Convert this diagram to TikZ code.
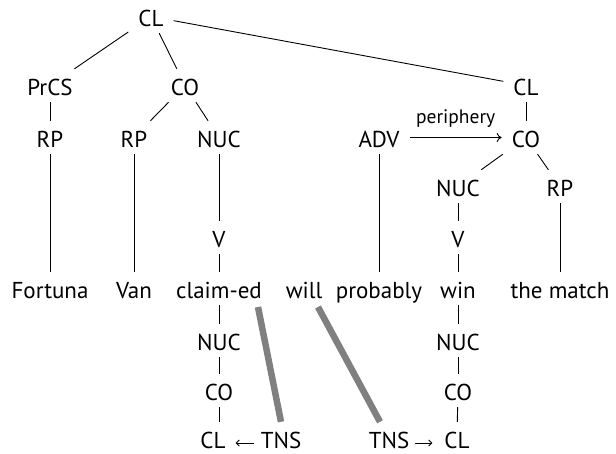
\documentclass[tikz,border=0pt]{standalone}
\usepackage{fontspec}
\setmainfont{PT Sans}
\usetikzlibrary{arrows.meta,calc}
\begin{document}
\begin{tikzpicture}[x=1pt,y=-1pt,
  lab/.style={anchor=base, font=\fontsize{23}{27}\selectfont,
    text height=19pt, text depth=0pt, inner ysep=7pt, inner xsep=10pt},
  lastrow/.style={lab, text height=26pt, inner ysep=0pt},
  edge/.style={line width=0.9pt},
  pointer/.style={edge, -{Straight Barb[length=3pt,width=6pt]}},
  link/.style={line width=6.5pt, draw=black!50},
  small/.style={font=\fontsize{19.5}{23}\selectfont}]
\useasboundingbox (0,0) rectangle (616,453);

% tree nodes
\node[lab] (cl0)  at (151,26) {CL};
\node[lab] (prcs) at (50,95)  {PrCS};
\node[lab] (co1)  at (185,95) {CO};
\node[lab] (cl2)  at (526,95) {CL};
\node[lab] (rp1)  at (50,147) {RP};
\node[lab] (rp2)  at (134,147) {RP};
\node[lab] (nuc1) at (219,147) {NUC};
\node[lab] (adv)  at (379,147) {ADV};
\node[lab] (co2)  at (526,147) {CO};
\node[lab] (nuc2) at (458,196) {NUC};
\node[lab] (rp3)  at (560,196) {RP};
\node[lab] (v1)   at (219,247) {V};
\node[lab] (v2)   at (458,247) {V};

% words
\node[lab] (fortuna)  at (50,298)  {Fortuna};
\node[lab] (van)      at (134,298) {Van};
\node[lab] (claimed)  at (219,298) {claim-ed};
\node[lab] (will)     at (304,298) {will};
\node[lab] (probably) at (379,298) {probably};
\node[lab] (win)      at (458,298) {win};
\node[lab] (match)    at (560,298) {the match};

% operator projection
\node[lab]     (nuc3) at (219,350) {NUC};
\node[lab]     (co3)  at (219,400) {CO};
\node[lastrow] (cl3)  at (213,448) {CL};
\node[lastrow] (tns1) at (281,448) {TNS};
\node[lab]     (nuc4) at (458,350) {NUC};
\node[lab]     (co4)  at (458,400) {CO};
\node[lastrow] (cl4)  at (457,448) {CL};
\node[lastrow] (tns2) at (389,448) {TNS};

% constituent edges
\draw[edge] (cl0) -- (prcs);
\draw[edge] (cl0) -- (co1);
\draw[edge] (cl0) -- (cl2);
\draw[edge] (prcs) -- (rp1);
\draw[edge] (co1) -- (rp2);
\draw[edge] (co1) -- (nuc1);
\draw[edge] (cl2) -- (co2);
\draw[edge] (co2) -- (nuc2);
\draw[edge] (co2) -- (rp3);
\draw[edge] (nuc1) -- (v1);
\draw[edge] (nuc2) -- (v2);
\draw[edge] (rp1) -- (fortuna);
\draw[edge] (rp2) -- (van);
\draw[edge] (v1) -- (claimed);
\draw[edge] (adv) -- (probably);
\draw[edge] (v2) -- (win);
\draw[edge] (rp3) -- (match);
\draw[edge,-{To[length=5pt,width=9pt]}] (adv) -- (co2)
  node[midway, anchor=base, yshift=14pt, small] (per) {periphery};

% operator edges
\draw[edge] (claimed) -- (nuc3);
\draw[edge] (nuc3) -- (co3);
\draw[edge] (co3) -- (co3 |- cl3.north);
\draw[edge] (win) -- (nuc4);
\draw[edge] (nuc4) -- (co4);
\draw[edge] (co4) -- (cl4);
\draw[pointer] ([xshift=3pt,yshift=-8pt]tns1.west) -- ([yshift=-8pt]cl3.east);
\draw[pointer] ([xshift=-4pt,yshift=-8pt]tns2.east) -- ([xshift=-2pt,yshift=-8pt]cl4.west);

% tense operator links
\coordinate (ed) at (258,307);
\coordinate (wl) at (318,307);
\draw[link] (ed) -- (tns1.north);
\draw[link] (wl) -- ($(tns2.north)+(-9,0)$);
\end{tikzpicture}
\end{document}
